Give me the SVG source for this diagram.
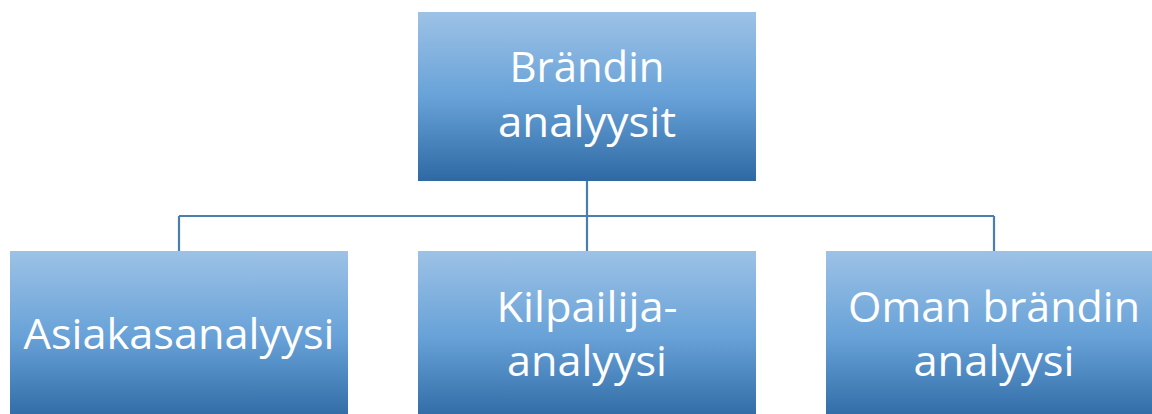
<svg xmlns="http://www.w3.org/2000/svg" width="1152" height="414" viewBox="0 0 1152 414">
  <defs>
    <linearGradient id="boxFill" x1="0" y1="0" x2="0" y2="1">
      <stop offset="0" stop-color="#9dc2e6"/>
      <stop offset="0.5" stop-color="#68a2d8"/>
      <stop offset="1" stop-color="#2e69a4"/>
    </linearGradient>
  </defs>
  <style>
    .box { fill: url(#boxFill); }
    .label { font-family: "Open Sans", "Liberation Sans", Arial, sans-serif; font-size: 42px; fill: #ffffff; text-anchor: middle; }
    .link { fill: none; stroke: #4a7db0; stroke-width: 2.2; }
  </style>

  <!-- connectors -->
  <g id="connectors">
    <path class="link" d="M587 181 V251"/>
    <path class="link" d="M179 216 H994"/>
    <path class="link" d="M179 216 V251"/>
    <path class="link" d="M994 216 V251"/>
  </g>

  <g id="node-root">
    <rect class="box" x="418" y="12" width="338" height="169"/>
    <text class="label" x="587" y="82" textLength="155" lengthAdjust="spacingAndGlyphs">Brändin</text>
    <text class="label" x="587" y="137" textLength="178" lengthAdjust="spacingAndGlyphs">analyysit</text>
  </g>

  <g id="node-asiakas">
    <rect class="box" x="10" y="251" width="338" height="170"/>
    <text class="label" x="179" y="349" textLength="311" lengthAdjust="spacingAndGlyphs">Asiakasanalyysi</text>
  </g>

  <g id="node-kilpailija">
    <rect class="box" x="418" y="251" width="338" height="170"/>
    <text class="label" x="587" y="322" textLength="181" lengthAdjust="spacingAndGlyphs">Kilpailija-</text>
    <text class="label" x="587" y="376" textLength="160" lengthAdjust="spacingAndGlyphs">analyysi</text>
  </g>

  <g id="node-oma">
    <rect class="box" x="826" y="251" width="338" height="170"/>
    <text class="label" x="994" y="322" textLength="292" lengthAdjust="spacingAndGlyphs">Oman brändin</text>
    <text class="label" x="994" y="376" textLength="161" lengthAdjust="spacingAndGlyphs">analyysi</text>
  </g>
</svg>
